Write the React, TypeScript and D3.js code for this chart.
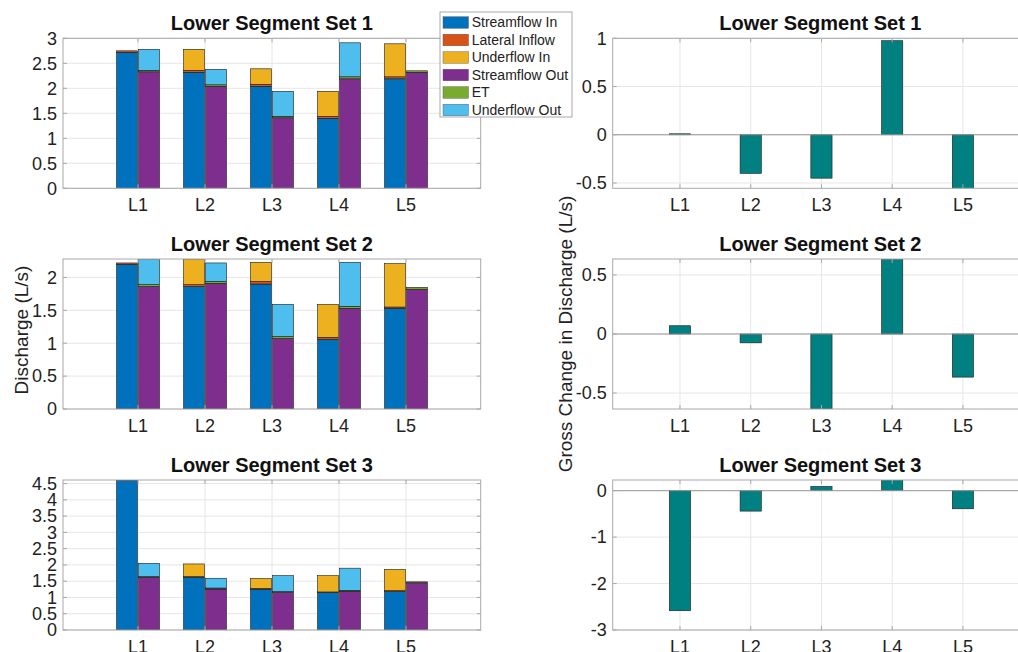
import React from "react";
import * as d3 from "d3";

// categories and legend
const locations = ["L1", "L2", "L3", "L4", "L5"];
const inKeys = ["Streamflow In", "Lateral Inflow", "Underflow In"];
const outKeys = ["Streamflow Out", "ET", "Underflow Out"];
const legendKeys = [...inKeys, ...outKeys];
const legendColors = ["#0072BD", "#D95319", "#EDB120", "#7E2F8E", "#77AC30", "#4DBEEE"];

// Lower Segment Set 1 (L/s)
const set1StreamIn = [2.72, 2.32, 2.04, 1.4, 2.19];
const set1Lateral = [0.03, 0.04, 0.04, 0.04, 0.04];
const set1UnderIn = [0, 0.42, 0.31, 0.5, 0.66];
const set1StreamOut = [2.33, 2.04, 1.41, 2.19, 2.32];
const set1ET = [0.03, 0.03, 0.03, 0.04, 0.03];
const set1UnderOut = [0.42, 0.31, 0.5, 0.68, 0];

// Lower Segment Set 2
const set2StreamIn = [2.2, 1.86, 1.9, 1.06, 1.53];
const set2Lateral = [0.02, 0.03, 0.04, 0.03, 0.02];
const set2UnderIn = [0, 0.39, 0.29, 0.5, 0.66];
const set2StreamOut = [1.86, 1.91, 1.07, 1.53, 1.82];
const set2ET = [0.03, 0.03, 0.03, 0.03, 0.03];
const set2UnderOut = [0.39, 0.28, 0.49, 0.67, 0];

// Lower Segment Set 3
const set3StreamIn = [4.6, 1.62, 1.25, 1.15, 1.18];
const set3Lateral = [0.01, 0.02, 0.03, 0.02, 0.03];
const set3UnderIn = [0, 0.39, 0.3, 0.5, 0.65];
const set3StreamOut = [1.62, 1.26, 1.15, 1.19, 1.45];
const set3ET = [0.02, 0.03, 0.03, 0.03, 0.03];
const set3UnderOut = [0.41, 0.3, 0.49, 0.68, 0];

// gross change in discharge
const gross1 = [0.01, -0.4, -0.45, 0.975, -0.555];
const gross2 = [0.07, -0.075, -0.635, 0.635, -0.365];
const gross3 = [-2.585, -0.44, 0.09, 0.23, -0.39];

// axis limits and ticks
const leftYDomains = [[0, 3], [0, 2.28], [0, 4.61]];
const leftYTicks = [
  [0, 0.5, 1, 1.5, 2, 2.5, 3],
  [0, 0.5, 1, 1.5, 2],
  [0, 0.5, 1, 1.5, 2, 2.5, 3, 3.5, 4, 4.5],
];
const rightYDomains = [[-0.555, 1], [-0.635, 0.635], [-3, 0.23]];
const rightYTicks = [[-0.5, 0, 0.5, 1], [-0.5, 0, 0.5], [-3, -2, -1, 0]];
const titles = ["Lower Segment Set 1", "Lower Segment Set 2", "Lower Segment Set 3"];

const sets = [
  [set1StreamIn, set1Lateral, set1UnderIn, set1StreamOut, set1ET, set1UnderOut],
  [set2StreamIn, set2Lateral, set2UnderIn, set2StreamOut, set2ET, set2UnderOut],
  [set3StreamIn, set3Lateral, set3UnderIn, set3StreamOut, set3ET, set3UnderOut],
];
const grossSets = [gross1, gross2, gross3];

const FONT = "'Liberation Sans', Arial, Helvetica, sans-serif";
const ROW_TOPS = [38.3, 259, 480];
const PLOT_H = 150;
const LEFT = { x0: 63, x1: 480.7, domain: [-0.12, 6.115] };
const RIGHT = { x0: 612.7, x1: 1028, domain: [0.049, 5.92] };
const BOX = "#a8a8a8";
const GRID = "#e6e6e6";
const TXT = "#222";

const fmt = (v: number) => (v < 0 ? "-" + String(-v) : String(v));

function Frame({ x, y, top, yTicks, title, id, children }: any) {
  const [x0, x1] = x.range();
  const bottom = top + PLOT_H;
  return (
    <g>
      <defs>
        <clipPath id={id}>
          <rect x={x0} y={top} width={x1 - x0} height={PLOT_H} />
        </clipPath>
      </defs>
      <rect x={x0} y={top} width={x1 - x0} height={PLOT_H} fill="#fff" />
      {yTicks.map((t: number) => (
        <line key={"gy" + t} x1={x0} x2={x1} y1={y(t)} y2={y(t)} stroke={GRID} />
      ))}
      {locations.map((_, i) => (
        <line key={"gx" + i} x1={x(i + 1)} x2={x(i + 1)} y1={top} y2={bottom} stroke={GRID} />
      ))}
      <g clipPath={`url(#${id})`}>{children}</g>
      <rect x={x0} y={top} width={x1 - x0} height={PLOT_H} fill="none" stroke={BOX} />
      {yTicks.map((t: number) => (
        <g key={"ty" + t}>
          <line x1={x0} x2={x0 + 4} y1={y(t)} y2={y(t)} stroke={BOX} />
          <line x1={x1} x2={x1 - 4} y1={y(t)} y2={y(t)} stroke={BOX} />
          <text x={x0 - 6} y={y(t)} dy="0.35em" textAnchor="end" fontSize={18} fill={TXT}>
            {fmt(t)}
          </text>
        </g>
      ))}
      {locations.map((l, i) => (
        <g key={"tx" + l}>
          <line x1={x(i + 1)} x2={x(i + 1)} y1={bottom} y2={bottom - 4} stroke={BOX} />
          <line x1={x(i + 1)} x2={x(i + 1)} y1={top} y2={top + 4} stroke={BOX} />
          <text x={x(i + 1)} y={bottom + 23} textAnchor="middle" fontSize={18} fill={TXT}>
            {l}
          </text>
        </g>
      ))}
      <text
        x={(x0 + x1) / 2}
        y={top - 8.5}
        textAnchor="middle"
        fontSize={20}
        fontWeight="bold"
        fill="#111"
      >
        {title}
      </text>
    </g>
  );
}

function StackedPanel({ k }: { k: number }) {
  const top = ROW_TOPS[k];
  const x = d3.scaleLinear().domain(LEFT.domain).range([LEFT.x0, LEFT.x1]);
  const y = d3.scaleLinear().domain(leftYDomains[k]).range([top + PLOT_H, top]);
  const rows = locations.map((l, i) => {
    const r: any = { loc: l };
    legendKeys.forEach((key, j) => (r[key] = sets[k][j][i]));
    return r;
  });
  const stackIn = d3.stack().keys(inKeys)(rows);
  const stackOut = d3.stack().keys(outKeys)(rows);
  const sub = (i: number) =>
    d3
      .scaleBand()
      .domain(["in", "out"])
      .range([x(i + 1 - 0.32), x(i + 1 + 0.32)])
      .paddingInner(0.06);
  const drawStack = (stack: any[], side: string, offset: number) =>
    stack.map((layer, j) =>
      layer.map((d: any, i: number) => {
        const b = sub(i);
        return (
          <rect
            key={side + j + "-" + i}
            x={b(side)}
            width={b.bandwidth()}
            y={y(d[1])}
            height={Math.max(0, y(d[0]) - y(d[1]))}
            fill={legendColors[offset + j]}
            stroke="#1a1a1a"
            strokeWidth={0.6}
          />
        );
      })
    );
  return (
    <Frame x={x} y={y} top={top} yTicks={leftYTicks[k]} title={titles[k]} id={"clipL" + k}>
      {drawStack(stackIn, "in", 0)}
      {drawStack(stackOut, "out", 3)}
    </Frame>
  );
}

function GrossPanel({ k }: { k: number }) {
  const top = ROW_TOPS[k];
  const x = d3.scaleLinear().domain(RIGHT.domain).range([RIGHT.x0, RIGHT.x1]);
  const y = d3.scaleLinear().domain(rightYDomains[k]).range([top + PLOT_H, top]);
  const w = x(1.15) - x(0.85);
  return (
    <Frame x={x} y={y} top={top} yTicks={rightYTicks[k]} title={titles[k]} id={"clipR" + k}>
      {grossSets[k].map((v, i) => (
        <rect
          key={i}
          x={x(i + 1) - w / 2}
          width={w}
          y={y(Math.max(0, v))}
          height={Math.abs(y(v) - y(0))}
          fill="#008080"
          stroke="#1a1a1a"
          strokeWidth={0.6}
        />
      ))}
      <line x1={RIGHT.x0} x2={RIGHT.x1} y1={y(0)} y2={y(0)} stroke="#999" />
    </Frame>
  );
}

function Legend() {
  const lx = 440;
  const ly = 12;
  const rowH = 17.5;
  return (
    <g>
      <rect x={lx} y={ly} width={132} height={105} fill="#fff" stroke={BOX} />
      {legendKeys.map((key, i) => (
        <g key={key}>
          <rect
            x={lx + 3}
            y={ly + 4.7 + i * rowH}
            width={25.5}
            height={11.6}
            fill={legendColors[i]}
            stroke="#555"
            strokeWidth={0.4}
          />
          <text x={lx + 31.7} y={ly + 15.3 + i * rowH} fontSize={14} fill={TXT}>
            {key}
          </text>
        </g>
      ))}
    </g>
  );
}

export default function App() {
  return (
    <svg
      width={1018}
      height={652}
      style={{ position: "absolute", left: 0, top: 0, background: "#fff" }}
      fontFamily={FONT}
    >
      <rect width={1018} height={652} fill="#fff" />
      {[0, 1, 2].map((k) => (
        <StackedPanel key={"s" + k} k={k} />
      ))}
      {[0, 1, 2].map((k) => (
        <GrossPanel key={"g" + k} k={k} />
      ))}
      <text
        transform="translate(28,330) rotate(-90)"
        textAnchor="middle"
        fontSize={19}
        fill={TXT}
      >
        Discharge (L/s)
      </text>
      <text
        transform="translate(572,334) rotate(-90)"
        textAnchor="middle"
        fontSize={19}
        fill={TXT}
      >
        Gross Change in Discharge (L/s)
      </text>
      <Legend />
    </svg>
  );
}
